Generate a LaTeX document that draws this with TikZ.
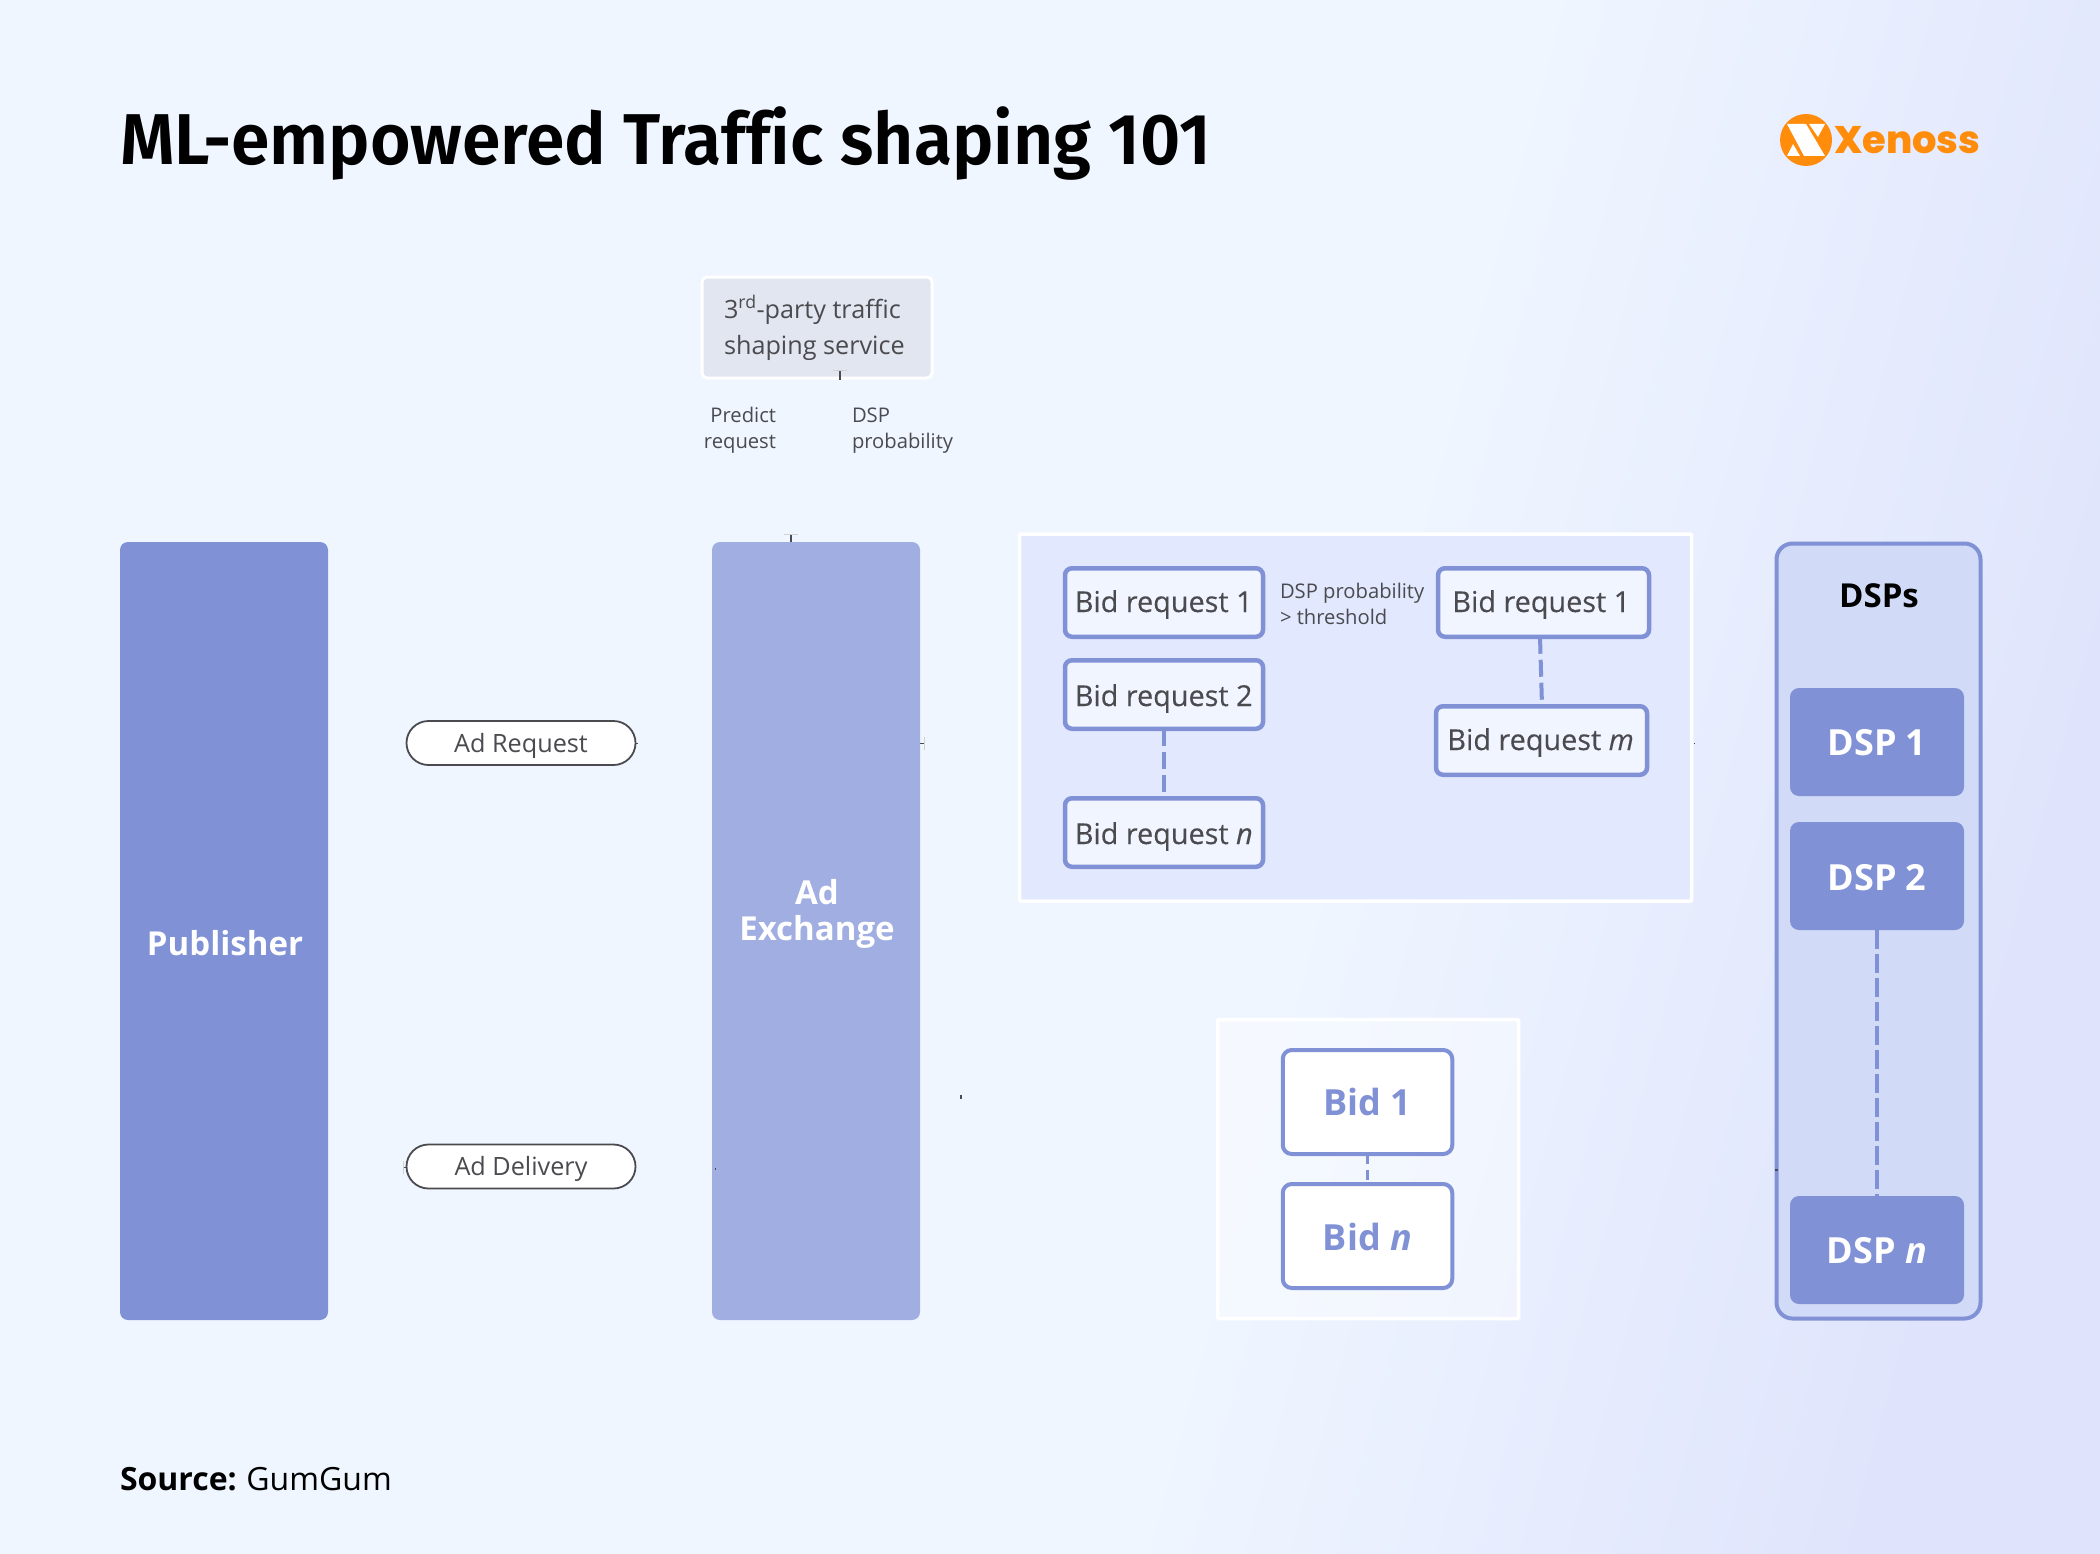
\documentclass[tikz,border=0pt]{standalone}
\usepackage{fontspec}
\setmainfont{Open Sans}
\newfontfamily\medfont[FakeBold=0.25,ItalicFeatures={FakeBold=0.25}]{Open Sans}
\newfontfamily\titlefont[UprightFont=* SemiBold,FakeStretch=0.967,Ligatures=CommonOff]{Fira Sans}
\newfontfamily\logofont[UprightFont=* ExtraBold]{Poppins}
\usetikzlibrary{calc,positioning}
\definecolor{bgA}{HTML}{EFF6FF}
\definecolor{bgB}{HTML}{DFE4FC}
\definecolor{pub}{HTML}{8091D6}
\definecolor{adx}{HTML}{A1AEE1}
\definecolor{panel}{HTML}{E2E8FD}
\definecolor{boxf}{HTML}{F1F5FF}
\definecolor{ink}{HTML}{4A4A4F}
\definecolor{svc}{HTML}{E2E6F0}
\definecolor{dspf}{HTML}{D1DAF6}
\definecolor{logo}{HTML}{FF8C0A}
\pgfdeclarehorizontalshading{bgshade}{100bp}{color(0bp)=(bgA); color(50bp)=(bgA); color(57bp)=(bgA); color(75bp)=(bgB); color(100bp)=(bgB)}
\tikzset{
  x=1pt,y=-1pt,
  inner sep=0pt,outer sep=0pt,
  big/.style={draw=none,rounded corners=8pt,minimum width=208pt,minimum height=778pt},
  biglabel/.style={text=white,font=\fontsize{33}{36}\selectfont\bfseries,align=center},
  reqbox/.style={draw=pub,line width=4.5pt,fill=boxf,rounded corners=7pt,minimum height=68.5pt},
  reqlabel/.style={anchor=base west,text=ink,font=\medfont\fontsize{28.8}{32}\selectfont},
  bidbox/.style={draw=pub,line width=4pt,fill=white,rounded corners=9pt,minimum width=169.5pt,minimum height=104pt},
  bidlabel/.style={anchor=base,text=pub,font=\fontsize{36}{38}\selectfont\bfseries},
  dspbox/.style={fill=pub,rounded corners=9pt,minimum width=174pt,minimum height=108pt},
  dsplabel/.style={anchor=base,text=white,font=\fontsize{36}{38}\selectfont\bfseries},
  pill/.style={draw=ink,line width=1.8pt,fill=white,rounded corners=22pt,minimum width=229pt,minimum height=44pt},
  pilllabel/.style={anchor=base,text=ink,font=\fontsize{25.2}{30}\selectfont},
  svclabel/.style={anchor=base west,text=ink,font=\fontsize{25.2}{30}\selectfont},
  note/.style={text=ink,font=\fontsize{20.2}{26}\selectfont,align=left},
  dashlink/.style={draw=pub,line width=4pt,dash pattern=on 17pt off 6pt},
  stub/.style={draw=ink,line width=1.6pt},
  ghost/.style={draw=ink!25,line width=.7pt},
}
\begin{document}
\begin{tikzpicture}
\useasboundingbox (0,0) rectangle (2100,1554);
\shade[shading=bgshade,shading angle=-15] (0,0) rectangle (2100,1554);
% title and logo
\node[anchor=base west,text=black,font=\titlefont\fontsize{72}{80}\selectfont] (title) at (120,165) {ML-empowered Traffic shaping 101};
\fill[logo] (1806,140) circle (26);
\fill[white] (1787,124) -- (1806,124) -- (1825,156) -- (1804,156) -- cycle;
\fill[white] (1809,124) -- (1825,124) -- (1818,137) -- cycle;
\fill[white] (1787,156) -- (1800,156) -- (1793,144) -- cycle;
\node[anchor=base west,text=logo,font=\logofont\fontsize{38.4}{40}\selectfont] (logotext) at (1834,153.5) {Xenoss};
% columns
\node[big,fill=pub] (publisher) at (224,931) {};
\node[biglabel] (publabel) at (225,943) {Publisher};
\node[big,fill=adx] (adx) at (816,931) {};
\node[biglabel] (adxlabel) at (817,914) {Ad\\[0pt]Exchange};
% service
\node[draw=white,line width=3pt,fill=svc,rounded corners=5pt,minimum width=230pt,minimum height=101pt] (service) at (817,327.5) {};
\node[svclabel] (svc1) at (724,318) {3\textsuperscript{rd}-party traffic};
\node[svclabel] (svc2) at (724,354) {shaping service};
\node[note,anchor=north east,align=right] (predict) at (776,407.5) {Predict\\request};
\node[note,anchor=north west] (dspprob) at (852,407.5) {DSP\\probability};
% pills
\node[pill] (adreq) at (521,743) {};
\node[pilllabel] (adreqlabel) at (521,752) {Ad Request};
\node[pill] (addel) at (521,1166.5) {};
\node[pilllabel] (addellabel) at (521,1175.7) {Ad Delivery};
% request panel
\node[draw=white,line width=3.5pt,fill=panel,rounded corners=1pt,minimum width=672pt,minimum height=367pt] (reqpanel) at (1355.5,717.5) {};
\node[reqbox,minimum width=198pt] (br1) at (1164,602.5) {};
\node[reqlabel] (br1l) at (1074.8,612) {Bid request 1};
\node[reqbox,minimum width=198pt] (br2) at (1164,694.5) {};
\node[reqlabel] (br2l) at (1074.8,706) {Bid request 2};
\node[reqbox,minimum width=198pt] (brn) at (1164,832.5) {};
\node[reqlabel] (brnl) at (1074.8,844) {Bid request \textit{n}};
\node[reqbox,minimum width=211pt] (br1b) at (1543.5,602.5) {};
\node[reqlabel] (br1bl) at (1452.4,612) {Bid request 1};
\node[reqbox,minimum width=211pt] (brm) at (1541.5,740.5) {};
\node[reqlabel] (brml) at (1447.4,750) {Bid request \textit{m}};
\node[note,anchor=west] (thresh) at (1280,604) {DSP probability\\> threshold};
\draw[dashlink] (br2.south) -- (brn.north);
\draw[dashlink] (br1b.south -| 1540,0) -- (brm.north -| 1542,0);
% bid panel
\node[draw=white,line width=3.5pt,fill=white,fill opacity=0.4,draw opacity=1,rounded corners=1pt,minimum width=301pt,minimum height=299pt] (bidpanel) at (1368,1169) {};
\node[bidbox] (bid1) at (1367.5,1102) {};
\node[bidlabel] (bid1l) at (1367.5,1115.7) {Bid 1};
\node[bidbox] (bidn) at (1367.5,1236) {};
\node[bidlabel] (bidnl) at (1367.5,1250) {Bid \textit{n}};
\draw[dashlink,line width=3.5pt,dash pattern=on 10pt off 6pt] (bid1.south) -- (bidn.north);
% DSPs
\node[draw=pub,line width=4pt,fill=dspf,rounded corners=16pt,minimum width=204pt,minimum height=775pt] (dsps) at (1878.5,931) {};
\node[anchor=base,text=black,font=\fontsize{33}{36}\selectfont\bfseries] (dspslabel) at (1879,607) {DSPs};
\node[dspbox] (dsp1) at (1877,742) {};
\node[dsplabel] (dsp1l) at (1877,755.7) {DSP 1};
\node[dspbox] (dsp2) at (1877,876) {};
\node[dsplabel] (dsp2l) at (1877,890) {DSP 2};
\node[dspbox] (dspn) at (1877,1250) {};
\node[dsplabel] (dspnl) at (1877,1263) {DSP \textit{n}};
\draw[dashlink,dash pattern=on 19pt off 5pt] (dsp2.south) -- (dspn.north);
% source
\node[anchor=base west,text=black,font=\fontsize{32}{36}\selectfont] (source) at (120,1490) {\textbf{Source:}\hspace{-1.5pt} GumGum};
% connector stubs
\coordinate (s1) at (840,371); \coordinate (s1b) at (840,380);
\draw[stub] (s1) -- (s1b);
\draw[ghost] (833,370.5) -- (847,370.5);
\coordinate (s2) at (791,534); \coordinate (s2b) at (791,542);
\draw[stub] (s2) -- (s2b);
\draw[ghost] (784,534) -- (798,534);
\coordinate (s3) at (920,743.5); \coordinate (s3b) at (924,743.5);
\draw[stub] (s3) -- (s3b);
\draw[ghost] (924,737) -- (924,750);
\coordinate (s4) at (636,743.5); \coordinate (s4b) at (638,743.5);
\draw[stub] (s4) -- (s4b);
\coordinate (s5) at (403,1167.5); \coordinate (s5b) at (406,1167.5);
\draw[stub] (s5) -- (s5b);
\draw[ghost] (403,1161) -- (403,1174);
\coordinate (s6) at (715,1168); \coordinate (s6b) at (715,1170);
\draw[stub,line width=.8pt] (s6) -- (s6b);
\coordinate (s7) at (961,1095); \coordinate (s7b) at (961,1099);
\draw[stub] (s7) -- (s7b);
\coordinate (s8) at (1693.5,743.5); \coordinate (s8b) at (1695,743.5);
\draw[stub,line width=.8pt] (s8) -- (s8b);
\coordinate (s9) at (1775,1170); \coordinate (s9b) at (1778,1170);
\draw[stub] (s9) -- (s9b);
\end{tikzpicture}
\end{document}
